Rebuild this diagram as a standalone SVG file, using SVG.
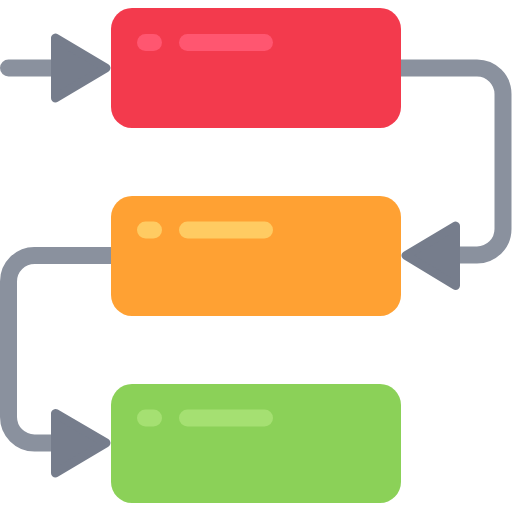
<svg xmlns="http://www.w3.org/2000/svg" width="512" height="512" viewBox="0 0 512 512">
<style>
.line{fill:none;stroke:#8A919E;stroke-width:17;stroke-linecap:round;stroke-linejoin:round}
.head{fill:#767D8C;stroke:#767D8C;stroke-width:9;stroke-linejoin:round}
.red{fill:#F33A4D}.redh{fill:#FF5670}
.org{fill:#FFA133}.orgh{fill:#FFCB62}
.grn{fill:#8BD158}.grnh{fill:#A5E072}
</style>
<g id="connectors">
<path class="line" d="M8.5 68 H60"/>
<path class="line" d="M395 68 H477 A26 26 0 0 1 503 94 V229 A26 26 0 0 1 477 255 H450"/>
<path class="line" d="M117 255.5 H35 A26 26 0 0 0 8.5 281.5 V417 A26 26 0 0 0 34.5 443 H60"/>
<polygon class="head" points="55.5,38 55.5,98 106,68"/>
<polygon class="head" points="455.5,226 455.5,285.5 406,255.5"/>
<polygon class="head" points="55.5,413.5 55.5,473 106,443"/>
</g>
<g id="box1">
<rect class="red" x="111" y="8" width="290" height="120" rx="21"/>
<rect class="redh" x="137" y="34" width="25" height="17" rx="8.5"/>
<rect class="redh" x="179" y="34" width="94" height="17" rx="8.5"/>
</g>
<g id="box2">
<rect class="org" x="111" y="196" width="290" height="120" rx="21"/>
<rect class="orgh" x="137" y="221.5" width="25" height="17" rx="8.5"/>
<rect class="orgh" x="179" y="221.5" width="94" height="17" rx="8.5"/>
</g>
<g id="box3">
<rect class="grn" x="111" y="384" width="290" height="119" rx="21"/>
<rect class="grnh" x="137" y="409.5" width="25" height="17" rx="8.5"/>
<rect class="grnh" x="179" y="409.5" width="94" height="17" rx="8.5"/>
</g>
</svg>
